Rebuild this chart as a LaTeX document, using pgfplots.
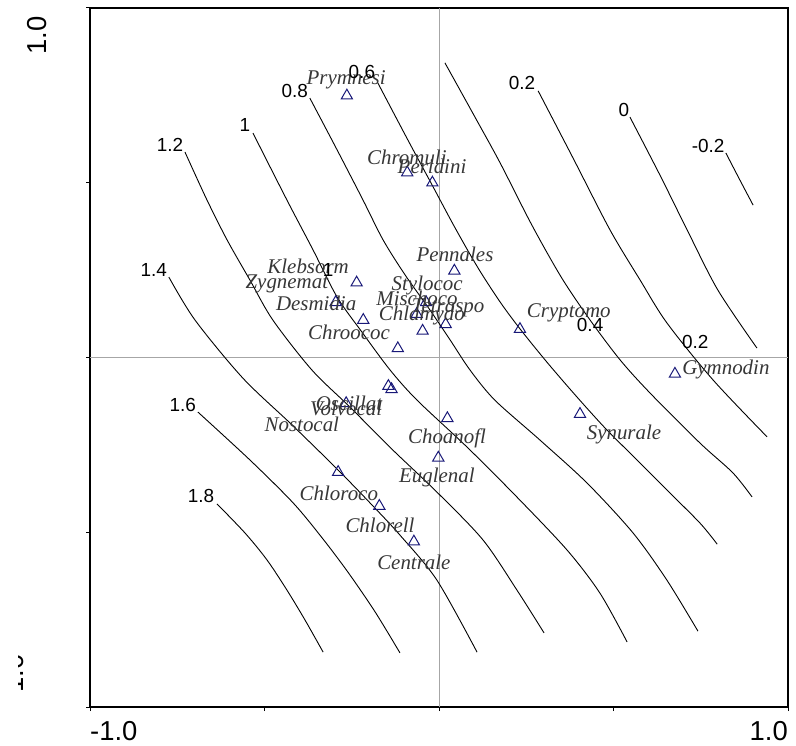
\documentclass[border=0pt]{standalone}
\usepackage{pgfplots}
\usepackage{pgfplotstable}
\pgfplotsset{compat=1.18}
\usepackage{fontspec}
\setmainfont{Liberation Sans}
\newfontfamily\spfont{Liberation Serif}
\definecolor{tri}{RGB}{24,24,120}
\definecolor{sptext}{RGB}{55,55,55}

\pgfplotstableread{
x y
-0.264 0.749
-0.091 0.529
-0.019 0.500
0.044 0.248
-0.236 0.214
-0.296 0.158
-0.217 0.107
-0.118 0.026
-0.037 0.158
-0.064 0.124
-0.047 0.076
0.019 0.095
0.232 0.081
0.404 -0.162
0.676 -0.047
-0.145 -0.082
-0.136 -0.091
-0.266 -0.131
0.024 -0.174
-0.002 -0.287
-0.289 -0.328
-0.171 -0.425
-0.072 -0.527
}\triangles

\pgfplotstableread{
x y name
-0.266 0.794 Prymnesi
-0.092 0.574 Chromuli
-0.020 0.548 Peridini
0.046 0.296 Pennales
-0.375 0.262 Klebsorm
-0.436 0.210 Zygnemat
-0.352 0.156 Desmidia
-0.034 0.207 Stylococ
-0.063 0.170 Mischoco
0.026 0.142 Tetraspo
-0.049 0.119 Chlamydo
-0.258 0.073 Chroococ
0.372 0.127 Cryptomo
0.822 -0.033 Gymnodin
0.530 -0.219 Synurale
-0.258 -0.130 Oscillat
-0.266 -0.147 Volvocal
-0.393 -0.190 Nostocal
0.023 -0.230 Choanofl
-0.006 -0.342 Euglenal
-0.287 -0.388 Chloroco
-0.169 -0.479 Chlorell
-0.072 -0.585 Centrale
}\species

\pgfplotstableread{
x y lab
-0.682 -0.396 1.8
-0.734 -0.136 1.6
-0.817 0.250 1.4
-0.771 0.608 1.2
-0.556 0.665 1
-0.413 0.763 0.8
-0.221 0.817 0.6
0.238 0.785 0.2
0.530 0.708 0
0.771 0.605 -0.2
-0.318 0.250 1
0.433 0.093 0.4
0.734 0.044 0.2
}\clabels

\begin{document}
\begin{tikzpicture}
\begin{axis}[
  at={(90bp,39bp)}, anchor=south west,
  scale only axis, width=698bp, height=699bp,
  xmin=-1, xmax=1, ymin=-1, ymax=1,
  axis line style={line width=1.2pt},
  xtick={-1,-0.5,0,0.5,1}, ytick={-1,-0.5,0,0.5,1},
  xticklabels={}, yticklabels={},
  tick align=outside, tick pos=left, major tick length=4bp,
  tick style={black, line width=1pt},
  clip=false,
]
\draw[gray!70, line width=0.5pt] (axis cs:0,-1) -- (axis cs:0,1);
\draw[gray!70, line width=0.5pt] (axis cs:-1,0) -- (axis cs:1,0);

% contour lines (levels 1.8 ... -0.2)
\addplot[black, line width=0.9pt, smooth] coordinates {(-0.636,-0.419) (-0.556,-0.502) (-0.493,-0.579) (-0.436,-0.665) (-0.384,-0.751) (-0.332,-0.843)};
\addplot[black, line width=0.9pt, smooth] coordinates {(-0.691,-0.156) (-0.542,-0.293) (-0.418,-0.416) (-0.335,-0.516) (-0.261,-0.614) (-0.183,-0.728) (-0.112,-0.845)};
\addplot[black, line width=0.9pt, smooth] coordinates {(-0.774,0.230) (-0.699,0.107) (-0.562,-0.059) (-0.421,-0.193) (-0.289,-0.322) (-0.192,-0.422) (-0.112,-0.508) (-0.006,-0.637) (0.109,-0.843)};
\addplot[black, line width=0.9pt, smooth] coordinates {(-0.728,0.588) (-0.665,0.451) (-0.607,0.336) (-0.542,0.222) (-0.476,0.107) (-0.364,-0.036) (-0.255,-0.142) (-0.132,-0.265) (-0.006,-0.385) (0.126,-0.522) (0.223,-0.665) (0.301,-0.788)};
\addplot[black, line width=0.9pt, smooth] coordinates {(-0.533,0.642) (-0.436,0.451) (-0.361,0.308) (-0.292,0.173) (-0.221,0.073) (-0.140,-0.036) (-0.063,-0.122) (0.080,-0.256) (0.223,-0.399) (0.367,-0.551) (0.461,-0.674) (0.539,-0.814)};
\addplot[black, line width=0.9pt, smooth] coordinates {(-0.370,0.742) (-0.292,0.594) (-0.218,0.451) (-0.160,0.336) (-0.097,0.236) (-0.026,0.136) (0.032,0.050) (0.089,-0.036) (0.160,-0.122) (0.289,-0.236) (0.424,-0.359) (0.556,-0.502) (0.653,-0.637) (0.742,-0.783)};
\addplot[black, line width=0.9pt, smooth] coordinates {(-0.175,0.785) (-0.089,0.622) (-0.020,0.494) (0.046,0.371) (0.112,0.256) (0.175,0.159) (0.232,0.082) (0.309,-0.013) (0.390,-0.107) (0.476,-0.202) (0.562,-0.288) (0.653,-0.379) (0.748,-0.474) (0.797,-0.534)};
\addplot[black, line width=0.9pt, smooth] coordinates {(0.017,0.843) (0.103,0.688) (0.175,0.557) (0.266,0.379) (0.352,0.227) (0.433,0.107) (0.519,-0.007) (0.605,-0.102) (0.748,-0.245) (0.842,-0.330) (0.897,-0.399)};
\addplot[black, line width=0.9pt, smooth] coordinates {(0.284,0.763) (0.387,0.565) (0.490,0.365) (0.576,0.222) (0.653,0.099) (0.785,-0.064) (0.940,-0.227)};
\addplot[black, line width=0.9pt, smooth] coordinates {(0.547,0.688) (0.633,0.522) (0.711,0.365) (0.799,0.193) (0.911,0.027)};
\addplot[black, line width=0.9pt, smooth] coordinates {(0.822,0.585) (0.862,0.508) (0.900,0.436)};

% species scores
\addplot[only marks, mark=triangle, mark size=6.5bp, mark options={draw=tri, line width=1pt}] table {\triangles};

\addplot[only marks, mark=*, mark size=0pt, mark options={draw=none, fill=none},
  point meta=explicit symbolic, nodes near coords, nodes near coords align={anchor=center},
  every node near coord/.append style={font=\spfont\itshape\fontsize{21}{24}\selectfont, text=sptext, inner sep=0pt}]
  table[meta=name] {\species};

\addplot[only marks, mark=*, mark size=0pt, mark options={draw=none, fill=none},
  point meta=explicit symbolic, nodes near coords, nodes near coords align={anchor=center},
  every node near coord/.append style={font=\fontsize{19}{22}\selectfont, text=black, inner sep=0pt}]
  table[meta=lab] {\clabels};
\end{axis}
\node[anchor=base west, font=\fontsize{27.5}{30}\selectfont, inner sep=0pt] at (90bp,6bp) {-1.0};
\node[anchor=base east, font=\fontsize{27.5}{30}\selectfont, inner sep=0pt] at (788bp,6bp) {1.0};
\node[rotate=90, anchor=base east, font=\fontsize{27.5}{30}\selectfont, inner sep=0pt] at (46.7bp,730bp) {1.0};
\begin{scope}
\clip (18.5bp,0bp) rectangle (23.5bp,746bp);
\node[rotate=90, anchor=base west, font=\fontsize{27.5}{30}\selectfont, inner sep=0pt] at (23bp,44bp) {-1.0};
\end{scope}
\pgfresetboundingbox
\path[use as bounding box] (0bp,0bp) rectangle (796bp,746bp);
\end{tikzpicture}
\end{document}
